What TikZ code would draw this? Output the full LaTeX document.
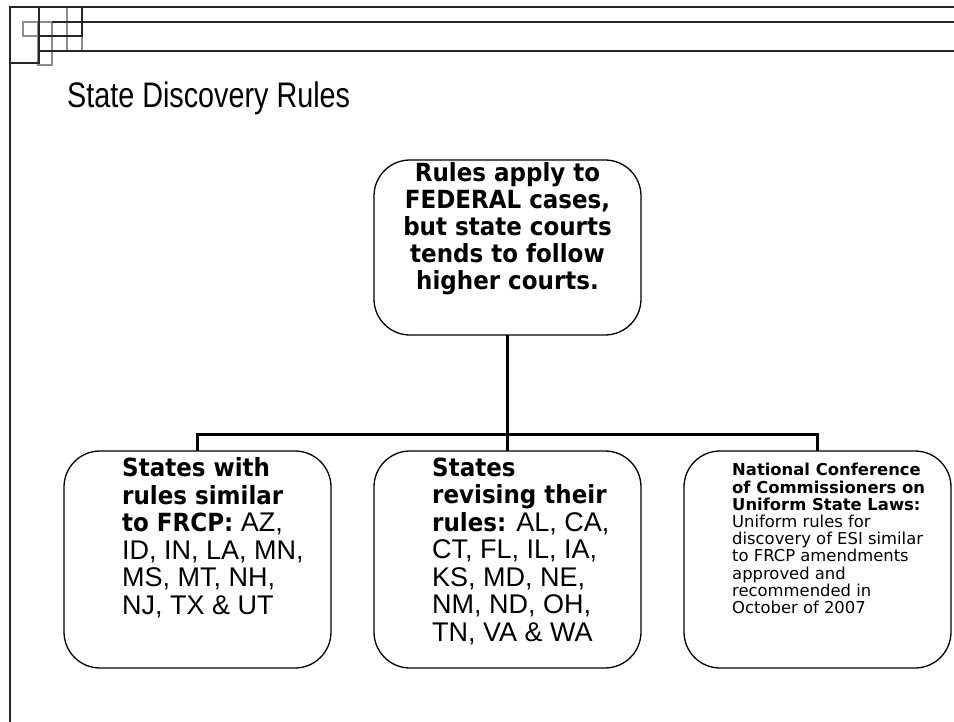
\documentclass[tikz,border=0pt]{standalone}
\usepackage{fontspec}
\setmainfont{Liberation Sans}
\newfontfamily\tah[FakeStretch=0.92]{DejaVu Sans}
\newfontfamily\tahr{DejaVu Sans}
\newfontfamily\titlefont[FakeStretch=0.81]{Liberation Sans}
\begin{document}
\begin{tikzpicture}[x=1pt,y=-1pt,
  box/.style={draw=black, line width=1.3pt, rounded corners=36pt, minimum width=267pt, inner sep=0pt, outer sep=0pt},
  conn/.style={draw=black, line width=3pt},
  deco/.style={draw=black!85, line width=1.2pt},
  decog/.style={draw=black!45, line width=1.1pt},
  bigbold/.style={font=\tah\bfseries\fontsize{25}{27}\selectfont},
  txt/.style={inner sep=0pt, align=left, anchor=west}]
\useasboundingbox (0,0) rectangle (954,722);
% header decoration
\draw[decog] (23,22) rectangle (39,36);
\draw[decog] (38,22) rectangle (52,65);
\draw[decog] (67,7) rectangle (82,51);
\draw[deco] (39,7) rectangle (82,36);
\draw[deco, line width=1.6pt] (10,63) -- (10,7) -- (39,7);
\draw[deco] (39,7) -- (39,63) -- (10,63);
\draw[deco] (82,7) -- (954,7);
\draw[deco] (52,22) -- (954,22);
\draw[deco] (39,51) -- (954,51);
\draw[deco] (10,63) -- (10,722);
% title
\node[anchor=base west, inner sep=0pt, font=\titlefont\fontsize{35.5}{38}\selectfont] (title) at (67,107.5) {State Discovery Rules};
% boxes
\node[box, minimum height=175pt] (top) at (507.5,247.5) {};
\node[box, minimum height=217pt] (left) at (197.5,559.5) {};
\node[box, minimum height=217pt] (mid) at (507.5,559.5) {};
\node[box, minimum height=217pt] (right) at (817.5,559.5) {};
% connectors
\coordinate (jL) at (197.5,434);
\coordinate (jM) at (507.5,434);
\coordinate (jR) at (817.5,434);
\draw[conn] (left.north) -- (jL) -- (jR) -- (right.north);
\draw[conn] (top.south) -- (jM) -- (mid.north);
% texts
\node[bigbold, inner sep=0pt, align=center] (ttop) at (507.5,229) {Rules apply to\\FEDERAL cases,\\but state courts\\tends to follow\\higher courts.};
\node[txt, font=\fontsize{27}{27.5}\selectfont] (tleft) at (122,537.5) {{\tah\bfseries\fontsize{25}{27.5}\selectfont States with}\\{\tah\bfseries\fontsize{25}{27.5}\selectfont rules similar}\\{\tah\bfseries\fontsize{25}{27.5}\selectfont to FRCP:} AZ,\\ID, IN, LA, MN,\\MS, MT, NH,\\NJ, TX \& UT};
\node[txt, font=\fontsize{27}{27.5}\selectfont] (tmid) at (432,551) {{\tah\bfseries\fontsize{25}{27.5}\selectfont States}\\{\tah\bfseries\fontsize{25}{27.5}\selectfont revising their}\\{\tah\bfseries\fontsize{25}{27.5}\selectfont rules:} AL, CA,\\CT, FL, IL, IA,\\KS, MD, NE,\\NM, ND, OH,\\TN, VA \& WA};
\node[txt, font=\tahr\fontsize{16.4}{17.2}\selectfont] (tright) at (732,538.5) {\textbf{National Conference}\\\textbf{of Commissioners on}\\\textbf{Uniform State Laws:}\\Uniform rules for\\discovery of ESI similar\\to FRCP amendments\\approved and\\recommended in\\October of 2007};
\end{tikzpicture}
\end{document}
